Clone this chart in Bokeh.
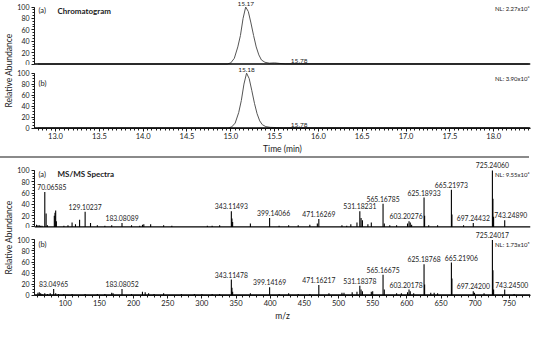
import math
from bokeh.plotting import figure
from bokeh.layouts import column, row
from bokeh.models import Range1d, FixedTicker, SingleIntervalTicker, Span, Label, NumeralTickFormatter, Div
from bokeh.core.properties import value
from bokeh.embed import file_html
from bokeh.resources import INLINE

# ---------------- data ----------------
CHROM_A_TIME = [12.80, 14.96, 15.00, 15.04, 15.08, 15.11, 15.14, 15.17, 15.20, 15.23, 15.26,
                15.29, 15.32, 15.35, 15.39, 15.44, 15.50, 15.56, 15.62, 18.40]
CHROM_A_INT = [0, 0, 2, 10, 30, 50, 80, 100, 92, 72, 50, 30, 16, 7, 3, 1.5, 2, 1, 0.3, 0]
CHROM_B_TIME = [12.80, 14.97, 15.01, 15.05, 15.09, 15.12, 15.15, 15.18, 15.21, 15.24, 15.27,
                15.30, 15.33, 15.36, 15.40, 15.45, 15.52, 15.60, 18.40]
CHROM_B_INT = [0, 0, 2, 9, 28, 50, 80, 100, 90, 68, 45, 26, 13, 6, 2.5, 1.2, 0.8, 0.3, 0]
CHROM_A_LABEL_T = [15.17, 15.78]
CHROM_A_LABEL_I = [100, 0]
CHROM_B_LABEL_T = [15.18, 15.78]
CHROM_B_LABEL_I = [100, 0]
NL_CHROM = ["NL: 2.27x10\u2076", "NL: 3.90x10\u2076"]
NL_SPEC = ["NL: 9.55x10\u2074", "NL: 1.73x10\u2075"]

SPEC_A_MZ = [58, 60, 62, 64, 66, 70.06585, 72, 74, 84, 85, 86, 87, 98, 104, 110, 115, 121,
             129.10237, 137, 147, 158, 168, 183.08089, 197, 209, 213, 215, 225, 244, 256, 308,
             315, 326, 343.11493, 344, 345, 371, 399.14066, 413, 427, 441, 458, 469, 471.16269,
             505, 512, 518, 527, 531.18231, 533, 535, 543, 548, 565.16785, 567, 575, 585, 601,
             603.20276, 605, 607, 625.18933, 626, 632, 645, 665.21973, 666, 683, 697.24432,
             725.24060, 726, 727, 743.24890]
SPEC_A_INT = [4, 3, 3, 2, 2, 62, 24, 3, 20, 25, 29, 10, 2, 3, 8, 5, 13,
              27, 7, 3, 2, 3, 7, 3, 2, 4, 5, 5, 3, 2, 2,
              2, 3, 28, 15, 9, 6, 16, 2, 3, 3, 4, 6, 14,
              3, 2, 5, 8, 28, 16, 12, 5, 8, 41, 6, 3, 3, 6,
              10, 8, 4, 52, 20, 3, 3, 66, 22, 3, 7,
              100, 50, 18, 12]
SPEC_B_MZ = [60, 62, 64, 66, 70, 74, 78, 83.04965, 86, 90, 98, 110, 129, 147, 158, 168, 170,
             183.08052, 197, 213, 217, 222, 230, 244, 270, 289, 300, 315, 326, 343.11478, 344,
             345, 371, 399.14169, 413, 427, 441, 458, 471.16217, 486, 505, 508, 520, 527,
             531.18378, 533, 535, 548, 550, 565.16675, 567, 585, 592, 601, 603.20178, 605, 610,
             625.18768, 626, 635, 640, 645, 665.21906, 666, 697.24200, 699, 713, 725.24017, 726,
             727, 743.24500, 757]
SPEC_B_INT = [4, 5, 3, 2, 3, 2, 3, 11, 3, 2, 2, 2, 2, 2, 2, 4, 3,
              11, 2, 6, 5, 3, 2, 3, 2, 2, 2, 2, 2, 28, 13,
              6, 3, 14, 2, 3, 2, 2, 18, 3, 4, 4, 5, 6,
              17, 10, 7, 6, 7, 37, 10, 3, 3, 5, 10, 7, 3,
              56, 19, 4, 4, 3, 59, 30, 7, 4, 3, 100, 45,
              10, 10, 2]
SPEC_A_LABEL_MZ = [70.06585, 129.10237, 183.08089, 343.11493, 399.14066, 471.16269, 531.18231,
                   565.16785, 603.20276, 625.18933, 665.21973, 697.24432, 725.24060, 743.24890]
SPEC_A_LABEL_I = [62, 27, 7, 28, 16, 14, 28, 41, 10, 52, 66, 7, 100, 12]
SPEC_B_LABEL_MZ = [83.04965, 183.08052, 343.11478, 399.14169, 471.16217, 531.18378, 565.16675,
                   603.20178, 625.18768, 665.21906, 697.24200, 725.24017, 743.24500]
SPEC_B_LABEL_I = [11, 11, 28, 14, 18, 17, 37, 10, 56, 59, 7, 100, 10]

Y_TICKS = [0, 20, 40, 60, 80, 100]

# ---------------- style ----------------
FONT = "Lato"
INK = "#1a1a1a"
SPEC_A_LABEL_DX = [7, 0, 0, 0, 4, 0, 0, 0, -3, 0, 0, 0, 0, 6]
SPEC_B_LABEL_DX = [0, 0, 0, 0, 0, 0, 0, -3, 0, 10, 0, 0, 7]

chrom_xr = Range1d(12.76, 18.42)
spec_xr = Range1d(55.0, 781.0)


def make_panel(xr, ylo, yhi, h, bb, show_x):
    p = figure(width=520, height=h, x_range=xr, y_range=Range1d(ylo, yhi),
               output_backend="svg", toolbar_location=None,
               x_axis_location=("below" if show_x else None),
               min_border_left=19, min_border_right=4, min_border_top=0, min_border_bottom=bb)
    p.xgrid.visible = False
    p.ygrid.visible = False
    p.outline_line_color = None
    ya = p.yaxis[0]
    ya.ticker = FixedTicker(ticks=Y_TICKS, minor_ticks=list(range(0, 101, 5)))
    ya.bounds = (0, 100)
    ya.major_tick_out = 3
    ya.major_tick_in = 0
    ya.minor_tick_out = 2
    ya.minor_tick_in = 0
    ya.major_label_standoff = 2
    ya.major_label_text_font = FONT
    ya.major_label_text_font_size = "7px"
    ya.major_label_text_color = INK
    ya.axis_line_color = INK
    ya.major_tick_line_color = INK
    ya.minor_tick_line_color = INK
    if show_x:
        xa = p.xaxis[0]
        xa.major_tick_out = 3
        xa.major_tick_in = 0
        xa.minor_tick_out = 2
        xa.minor_tick_in = 0
        xa.major_label_standoff = 1
        xa.major_label_text_font = FONT
        xa.major_label_text_font_size = "7.5px"
        xa.major_label_text_color = INK
        xa.axis_label_text_font = FONT
        xa.axis_label_text_font_size = "8.5px"
        xa.axis_label_text_font_style = "normal"
        xa.axis_label_text_color = INK
        xa.axis_label_standoff = 2
        xa.axis_line_color = INK
        xa.major_tick_line_color = INK
        xa.minor_tick_line_color = INK
    p.add_layout(Span(location=0, dimension="width", line_color="black", line_width=1.3))
    return p


def add_label(p, x, y, text, size, align="left", style="normal", dx=0):
    p.add_layout(Label(x=x, y=y, text=text, x_offset=dx, text_font=FONT,
                       text_font_size=size, text_align=align, text_baseline="middle",
                       text_font_style=style, text_color=INK))


def ylabel_fig(h, yc):
    f = figure(width=14, height=h, x_range=Range1d(0, 14), y_range=Range1d(0, h),
               output_backend="svg", toolbar_location=None,
               x_axis_location=None, y_axis_location=None, min_border=0)
    f.xgrid.visible = False
    f.ygrid.visible = False
    f.outline_line_color = None
    f.text(x=[8.5], y=[yc], text=["Relative Abundance"], angle=math.pi / 2,
           text_align="center", text_baseline="middle", text_font=value(FONT),
           text_font_size="8.5px", text_color=INK)
    return f


# ---------------- chromatogram ----------------
a1 = make_panel(chrom_xr, -2.6, 111.4, 65, 0, False)
a2 = make_panel(chrom_xr, -0.9, 113.9, 91, 25, True)
a2.xaxis[0].ticker = SingleIntervalTicker(interval=0.5, num_minor_ticks=10)
a2.xaxis[0].formatter = NumeralTickFormatter(format="0.0")
a2.xaxis[0].axis_label = "Time (min)"

for p, t, i, lt, li in [(a1, CHROM_A_TIME, CHROM_A_INT, CHROM_A_LABEL_T, CHROM_A_LABEL_I),
                        (a2, CHROM_B_TIME, CHROM_B_INT, CHROM_B_LABEL_T, CHROM_B_LABEL_I)]:
    p.line(t, i, line_color="#555555", line_width=1.0)
    p.text(x=lt, y=li, text=[f"{v:.2f}" for v in lt], text_align="center",
           text_baseline="bottom", y_offset=-1, text_font=value(FONT),
           text_font_size="6.5px", text_color=INK)

add_label(a1, chrom_xr.start, 93, "(a)", "7.5px", dx=4)
add_label(a1, chrom_xr.start, 93, "Chromatogram", "8px", style="bold", dx=23)
add_label(a1, chrom_xr.end, 97, NL_CHROM[0], "6px", align="right", dx=-1)
add_label(a2, chrom_xr.start, 81, "(b)", "7.5px", dx=4)
add_label(a2, chrom_xr.end, 91, NL_CHROM[1], "6px", align="right", dx=-1)

# ---------------- spectra ----------------
b1 = make_panel(spec_xr, -2.7, 121.2, 70, 0, False)
b2 = make_panel(spec_xr, -0.9, 120.9, 95, 25, True)
b2.xaxis[0].ticker = SingleIntervalTicker(interval=50, num_minor_ticks=5)
b2.xaxis[0].axis_label = "m/z"

for p, mz, it, lmz, li, ldx in [(b1, SPEC_A_MZ, SPEC_A_INT, SPEC_A_LABEL_MZ, SPEC_A_LABEL_I, SPEC_A_LABEL_DX),
                                (b2, SPEC_B_MZ, SPEC_B_INT, SPEC_B_LABEL_MZ, SPEC_B_LABEL_I, SPEC_B_LABEL_DX)]:
    p.segment(x0=mz, y0=[0] * len(mz), x1=mz, y1=it, line_color="black", line_width=1.1)
    p.text(x=lmz, y=li, text=[f"{v:.5f}" for v in lmz], x_offset=ldx, text_align="center",
           text_baseline="bottom", y_offset=-2, text_font=value(FONT),
           text_font_size="6.8px", text_color=INK)

add_label(b1, spec_xr.start, 93, "(a)", "7.5px", dx=4)
add_label(b1, spec_xr.start, 93, "MS/MS Spectra", "8px", style="bold", dx=23)
add_label(b1, spec_xr.end, 93, NL_SPEC[0], "6px", align="right", dx=-1)
add_label(b2, spec_xr.start, 91, "(b)", "7.5px", dx=4)
add_label(b2, spec_xr.end, 91, NL_SPEC[1], "6px", align="right", dx=-1)

# ---------------- separator ----------------
sep = Div(text="", width=529, height=2, margin=0,
          styles={"background-color": "#8a8a8a"})

layout = column(
    row(ylabel_fig(156, 86), column(a1, a2)),
    sep,
    row(ylabel_fig(165, 86), column(b1, b2)),
)

open("out.html", "w").write(file_html(layout, INLINE))
